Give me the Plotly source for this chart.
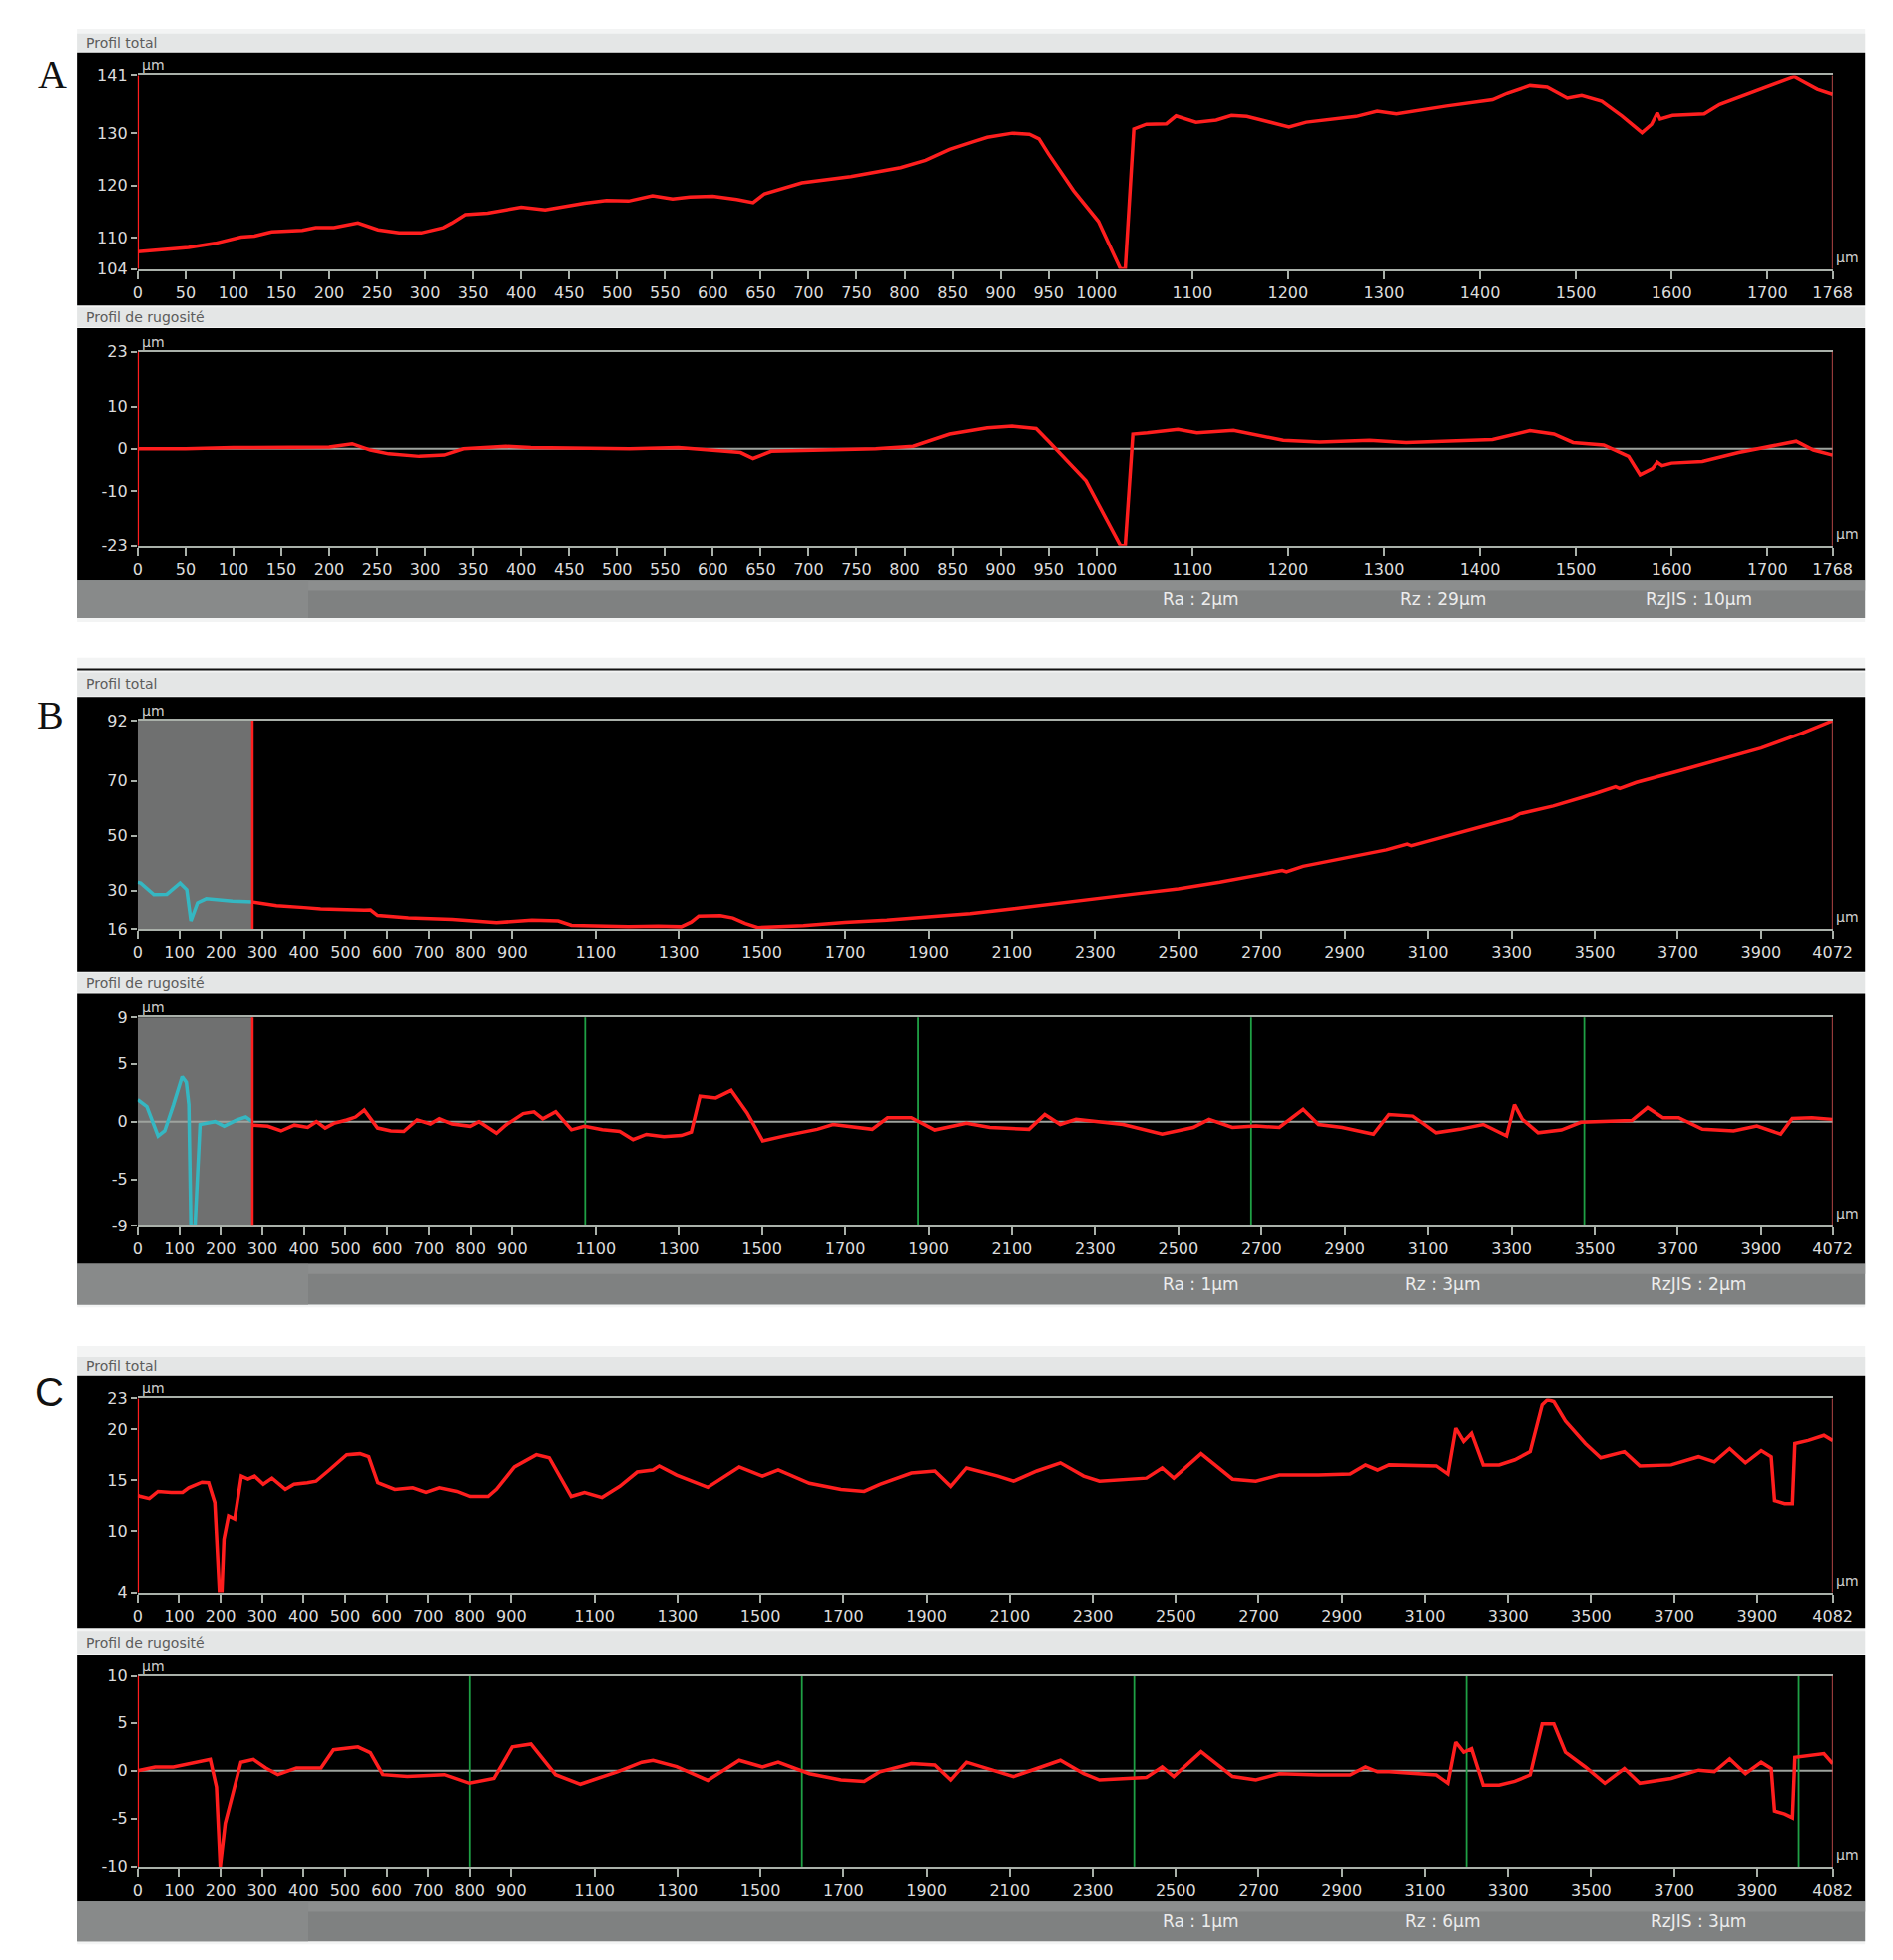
import plotly.graph_objects as go
from plotly.subplots import make_subplots

W, H = 1897, 1964

# ---------------- A ----------------
a_total_x = [0, 25, 53, 81, 108, 122, 140, 172, 186, 205, 230, 251, 273, 296, 319, 328, 342, 365, 383, 400,
             425, 448, 466, 489, 512, 537, 558, 576, 600, 625, 642, 654, 693, 744, 796, 822, 847, 870, 886, 912,
             930, 940, 950, 976, 1002, 1025, 1030, 1039, 1052, 1073, 1083, 1104, 1125, 1141, 1157, 1201, 1219,
             1271, 1293, 1313, 1365, 1413, 1428, 1452, 1470, 1491, 1506, 1527, 1548, 1569, 1579, 1585, 1588,
             1601, 1634, 1650, 1694, 1728, 1736, 1752, 1768]
a_total_y = [107.3, 107.6, 108.1, 108.9, 110.1, 110.3, 111.1, 111.4, 111.9, 111.9, 112.8, 111.5, 110.9, 110.9,
             111.9, 112.8, 114.4, 114.7, 115.3, 115.8, 115.3, 116.0, 116.6, 117.1, 117.0, 118.0, 117.4, 117.8,
             117.9, 117.3, 116.7, 118.4, 120.5, 121.7, 123.4, 124.8, 126.9, 128.3, 129.2, 130.0, 129.8, 128.9,
             126.0, 119.0, 113.1, 104.0, 104.0, 130.8, 131.7, 131.8, 133.3, 132.1, 132.5, 133.4, 133.2, 131.2,
             132.1, 133.2, 134.2, 133.7, 135.2, 136.4, 137.6, 139.1, 138.8, 136.7, 137.2, 136.1, 133.3, 130.1,
             131.7, 133.9, 132.7, 133.4, 133.7, 135.5, 138.4, 140.8, 140.0, 138.4, 137.4]
a_rough_x = [0, 50, 100, 166, 200, 224, 243, 262, 294, 320, 340, 384, 410, 513, 564, 629, 642, 661, 770, 809,
             847, 886, 912, 937, 950, 989, 1025, 1030, 1038, 1053, 1085, 1105, 1143, 1195, 1233, 1285, 1323,
             1413, 1452, 1477, 1497, 1529, 1555, 1567, 1580, 1585, 1590, 1600, 1632, 1670, 1709, 1730, 1748, 1768]
a_rough_y = [0.0, 0.0, 0.3, 0.5, 0.4, 1.2, -0.3, -1.2, -1.8, -1.5, 0.0, 0.6, 0.3, 0.0, 0.3, -0.9, -2.3, -0.6,
             0.0, 0.6, 3.5, 5.0, 5.4, 4.8, 1.8, -7.6, -23.0, -23.0, 3.5, 3.8, 4.6, 3.8, 4.4, 2.0, 1.6, 2.0, 1.5,
             2.2, 4.3, 3.5, 1.5, 0.9, -1.8, -6.2, -4.7, -3.2, -4.0, -3.4, -3.0, -0.9, 0.9, 1.8, -0.3, -1.5]
a_len = 1768
a_xticks = [0, 50, 100, 150, 200, 250, 300, 350, 400, 450, 500, 550, 600, 650, 700, 750, 800, 850, 900, 950,
            1000, 1100, 1200, 1300, 1400, 1500, 1600, 1700, 1768]
a_total_yticks = [104, 110, 120, 130, 141]
a_rough_yticks = [-23, -10, 0, 10, 23]
a_params = ["Ra : 2µm", "Rz : 29µm", "RzJIS : 10µm"]

# ---------------- B ----------------
b_cut = 276
b_total_pre_x = [0, 7, 39, 70, 102, 118, 128, 144, 165, 228, 276]
b_total_pre_y = [33.0, 32.7, 28.5, 28.6, 32.7, 30.3, 18.9, 25.5, 27.0, 26.1, 25.8]
b_total_x = [276, 334, 400, 440, 545, 560, 577, 651, 756, 862, 947, 1010, 1042, 1179, 1250, 1306, 1330, 1348,
             1400, 1430, 1460, 1490, 1600, 1700, 1800, 1900, 2000, 2100, 2200, 2300, 2400, 2500, 2600, 2700,
             2750, 2760, 2800, 2900, 3000, 3050, 3060, 3100, 3200, 3300, 3320, 3400, 3500, 3550, 3560, 3600,
             3700, 3800, 3900, 4000, 4072]
b_total_y = [25.8, 24.5, 23.8, 23.3, 22.8, 22.9, 20.9, 20.0, 19.5, 18.3, 19.2, 18.9, 17.3, 16.8, 17.0, 16.8,
             18.5, 20.7, 20.8, 20.0, 18.0, 16.5, 17.2, 18.4, 19.2, 20.3, 21.6, 23.3, 25.2, 27.2, 28.8, 30.6,
             33.0, 35.8, 37.3, 36.8, 38.8, 41.8, 44.8, 46.9, 46.3, 48.0, 52.0, 56.3, 58.0, 60.8, 65.3, 67.8,
             67.2, 69.4, 73.5, 77.8, 82.0, 87.5, 92.0]
b_rough_pre_x = [0, 22, 49, 65, 86, 107, 117, 123, 128, 138, 150, 186, 208, 239, 260, 276]
b_rough_pre_y = [1.9, 1.3, -1.25, -0.8, 1.45, 3.9, 3.4, 1.45, -9.0, -9.0, -0.25, 0.0, -0.4, 0.15, 0.4, 0.0]
b_rough_x = [276, 313, 345, 377, 409, 430, 451, 472, 503, 524, 545, 577, 609, 640, 672, 704, 725, 756, 799,
             820, 862, 884, 926, 952, 973, 1004, 1042, 1073, 1116, 1158, 1190, 1222, 1264, 1306, 1330, 1351,
             1389, 1426, 1464, 1502, 1558, 1633, 1671, 1727, 1765, 1802, 1859, 1915, 1991, 2047, 2141, 2179,
             2216, 2254, 2367, 2461, 2536, 2574, 2630, 2687, 2743, 2800, 2837, 2894, 2969, 3006, 3063, 3119,
             3176, 3232, 3288, 3307, 3326, 3364, 3420, 3467, 3533, 3589, 3627, 3664, 3702, 3759, 3834, 3890,
             3947, 3975, 4022, 4072]
b_rough_y = [-0.3, -0.4, -0.8, -0.3, -0.5, 0.0, -0.55, -0.15, 0.15, 0.4, 1.0, -0.55, -0.8, -0.85, 0.15, -0.2,
             0.25, -0.2, -0.4, 0.0, -1.0, -0.3, 0.7, 0.85, 0.25, 0.85, -0.7, -0.4, -0.7, -0.85, -1.55, -1.1,
             -1.3, -1.2, -0.9, 2.2, 2.05, 2.7, 0.77, -1.66, -1.2, -0.66, -0.24, -0.5, -0.66, 0.34, 0.34, -0.72,
             -0.14, -0.5, -0.66, 0.62, -0.24, 0.2, -0.24, -1.08, -0.5, 0.2, -0.5, -0.38, -0.5, 1.07, -0.24,
             -0.5, -1.08, 0.62, 0.48, -0.96, -0.66, -0.24, -1.24, 1.47, 0.2, -0.96, -0.72, -0.05, 0.0, 0.1,
             1.22, 0.34, 0.34, -0.66, -0.8, -0.38, -1.08, 0.28, 0.34, 0.2]
b_len = 4072
b_green = [1075, 1875, 2675, 3475]
b_xticks = [0, 100, 200, 300, 400, 500, 600, 700, 800, 900, 1100, 1300, 1500, 1700, 1900, 2100, 2300, 2500,
            2700, 2900, 3100, 3300, 3500, 3700, 3900, 4072]
b_total_yticks = [16, 30, 50, 70, 92]
b_rough_yticks = [-9, -5, 0, 5, 9]
b_params = ["Ra : 1µm", "Rz : 3µm", "RzJIS : 2µm"]

# ---------------- C ----------------
c_total_x = [0, 7, 28, 49, 81, 108, 123, 155, 171, 186, 197, 203, 208, 219, 234, 250, 266, 282, 303, 324, 356,
             377, 409, 430, 462, 504, 536, 557, 579, 620, 663, 695, 727, 769, 801, 844, 864, 907, 960, 991,
             1044, 1076, 1118, 1161, 1203, 1241, 1256, 1298, 1373, 1449, 1505, 1543, 1618, 1694, 1750, 1788,
             1864, 1920, 1958, 1996, 2071, 2109, 2165, 2222, 2278, 2316, 2429, 2467, 2495, 2561, 2637, 2693,
             2750, 2844, 2920, 2957, 2986, 3014, 3127, 3155, 3174, 3193, 3212, 3240, 3278, 3316, 3353, 3382,
             3395, 3410, 3438, 3486, 3523, 3580, 3617, 3693, 3759, 3797, 3834, 3872, 3910, 3934, 3942, 3966,
             3985, 3991, 4023, 4061, 4082]
c_total_y = [13.5, 13.4, 13.2, 13.9, 13.8, 13.8, 14.25, 14.8, 14.75, 12.8, 4.1, 4.1, 9.2, 11.5, 11.2, 15.4,
             15.1, 15.4, 14.6, 15.2, 14.1, 14.6, 14.75, 14.9, 16.0, 17.5, 17.6, 17.3, 14.75, 14.1, 14.25, 13.8,
             14.25, 13.9, 13.4, 13.4, 14.1, 16.3, 17.5, 17.2, 13.4, 13.8, 13.3, 14.4, 15.8, 16.0, 16.4, 15.5,
             14.3, 16.3, 15.4, 16.0, 14.7, 14.1, 13.9, 14.6, 15.7, 15.9, 14.4, 16.2, 15.4, 14.9, 15.9, 16.7,
             15.4, 14.9, 15.2, 16.2, 15.2, 17.6, 15.1, 14.9, 15.5, 15.5, 15.6, 16.5, 16.0, 16.5, 16.4, 15.6,
             20.1, 18.8, 19.6, 16.5, 16.5, 17.0, 17.8, 22.4, 22.9, 22.7, 20.8, 18.6, 17.2, 17.8, 16.4, 16.5,
             17.3, 16.8, 18.1, 16.7, 17.9, 17.3, 13.0, 12.7, 12.7, 18.6, 18.9, 19.4, 18.9]
c_rough_x = [0, 42, 86, 131, 175, 190, 199, 211, 229, 249, 279, 309, 338, 383, 442, 472, 531, 561, 591, 650,
             739, 799, 858, 902, 947, 1006, 1066, 1155, 1214, 1241, 1298, 1373, 1449, 1505, 1543, 1618, 1694,
             1750, 1788, 1864, 1920, 1958, 1996, 2071, 2109, 2165, 2222, 2278, 2316, 2429, 2467, 2495, 2561,
             2637, 2693, 2750, 2844, 2920, 2957, 2986, 3014, 3127, 3155, 3174, 3193, 3212, 3240, 3278, 3316,
             3353, 3382, 3410, 3438, 3486, 3533, 3580, 3617, 3693, 3759, 3797, 3834, 3872, 3910, 3934, 3942,
             3966, 3985, 3991, 4023, 4061, 4082]
c_rough_y = [0.0, 0.4, 0.4, 0.8, 1.2, -1.7, -10.0, -5.5, -2.3, 0.9, 1.2, 0.3, -0.4, 0.3, 0.3, 2.2, 2.5, 1.9,
             -0.4, -0.6, -0.4, -1.3, -0.8, 2.5, 2.8, -0.4, -1.4, -0.1, 0.9, 1.1, 0.44, -1.0, 1.1, 0.4, 0.9,
             -0.3, -0.96, -1.1, -0.1, 0.75, 0.6, -0.96, 0.9, -0.1, -0.6, 0.24, 1.1, -0.3, -0.96, -0.7, 0.4,
             -0.6, 2.0, -0.6, -0.96, -0.3, -0.44, -0.44, 0.4, -0.1, -0.1, -0.44, -1.3, 3.0, 1.95, 2.3, -1.5,
             -1.5, -1.1, -0.44, 4.9, 4.9, 1.95, 0.4, -1.3, 0.24, -1.3, -0.8, 0.07, -0.1, 1.26, -0.3, 0.9,
             0.24, -4.2, -4.5, -4.9, 1.4, 1.6, 1.8, 0.75]
c_len = 4082
c_green = [800, 1600, 2400, 3200, 4000]
c_xticks = [0, 100, 200, 300, 400, 500, 600, 700, 800, 900, 1100, 1300, 1500, 1700, 1900, 2100, 2300, 2500,
            2700, 2900, 3100, 3300, 3500, 3700, 3900, 4082]
c_total_yticks = [4, 10, 15, 20, 23]
c_rough_yticks = [-10, -5, 0, 5, 10]
c_params = ["Ra : 1µm", "Rz : 6µm", "RzJIS : 3µm"]

# ---------------- layout helpers (pixel -> paper) ----------------
def px(x):
    return x / W


def py(y):
    return 1 - y / H


PLOT_L, PLOT_R = 126.5, 1848
PANEL_L, PANEL_R = 65, 1881
RED = "#ff1e1e"
AXIS_GREY = "#a9b0a9"
TICK_FONT = dict(family="DejaVu Sans", size=16, color="#dcdcdc")

# (top, bottom) of each plotting area, and of black panel / title strip
panels = [
    dict(plot=(59, 255), black=(36, 292), strip=(17, 35), title="Profil total"),
    dict(plot=(339, 535), black=(315, 570), strip=(294, 314), title="Profil de rugosité"),
    dict(plot=(712, 923), black=(688, 966), strip=(663, 687), title="Profil total"),
    dict(plot=(1012, 1223), black=(988, 1262), strip=(967, 987), title="Profil de rugosité"),
    dict(plot=(1398, 1594), black=(1375, 1630), strip=(1356, 1374), title="Profil total"),
    dict(plot=(1678, 1872), black=(1657, 1907), strip=(1633, 1656), title="Profil de rugosité"),
]

fig = make_subplots(rows=6, cols=1)

shapes = []
annotations = []


def rect(x0, y0, x1, y1, color):
    shapes.append(dict(type="rect", xref="paper", yref="paper", x0=px(x0), x1=px(x1), y0=py(y1), y1=py(y0),
                       fillcolor=color, line_width=0, layer="below"))


# window backgrounds
rect(PANEL_L, 12, PANEL_R, 612, "#f3f4f4")
rect(PANEL_L, 648, PANEL_R, 1306, "#f3f4f4")
rect(PANEL_L, 1345, PANEL_R, 1950, "#f3f4f4")
shapes.append(dict(type="line", xref="paper", yref="paper", x0=px(PANEL_L), x1=px(PANEL_R), y0=py(660),
                   y1=py(660), line=dict(color="#111111", width=2), layer="below"))

for p in panels:
    rect(PANEL_L, p["strip"][0], PANEL_R, p["strip"][1], "#e4e6e6")
    rect(PANEL_L, p["black"][0], PANEL_R, p["black"][1], "#000000")
    annotations.append(dict(x=px(72), y=py((p["strip"][0] + p["strip"][1]) / 2), xref="paper", yref="paper",
                            text=p["title"], showarrow=False, xanchor="left", yanchor="middle",
                            font=dict(family="DejaVu Sans", size=14, color="#5c5c5c")))

# status bars
for top, bot, params in [(570, 608, a_params), (1262, 1303, b_params), (1907, 1947, c_params)]:
    rect(PANEL_L, top, PANEL_R, bot, "#7f8181")
    rect(PANEL_L, top, PANEL_R, top + 10, "#8c8e8e")
    rect(PANEL_L, top, 300, bot, "#888a8a")
    for cx, t in zip([1206, 1452, 1712], params):
        annotations.append(dict(x=px(cx), y=py((top + bot) / 2), xref="paper", yref="paper", text=t,
                                showarrow=False, xanchor="center", yanchor="middle",
                                font=dict(family="DejaVu Sans", size=17, color="#ececec")))

# panel letters
for letter, x, y, fam in [("A", 40, 58, "Liberation Serif"), ("B", 38, 706, "Liberation Serif"),
                          ("C", 37, 1391, "Liberation Sans")]:
    annotations.append(dict(x=px(x), y=py(y), xref="paper", yref="paper", text=letter, showarrow=False,
                            xanchor="center", yanchor="middle",
                            font=dict(family=fam, size=40, color="#111111")))

# B grey pre-travel band (drawn before lines so the curve sits on top)
for row in (3, 4):
    shapes.append(dict(type="rect", xref=f"x{row}", yref=f"y{row} domain", x0=0, x1=b_cut, y0=0, y1=1,
                       fillcolor="#6f7070", line_width=0, layer="below"))

# zero lines for roughness profiles
for row in (2, 4, 6):
    shapes.append(dict(type="line", xref=f"x{row} domain", yref=f"y{row}", x0=0, x1=1, y0=0, y1=0,
                       line=dict(color="#9ea39e", width=2), layer="below"))

# cut-off markers
for row, xs in [(4, b_green), (6, c_green)]:
    for gx in xs:
        shapes.append(dict(type="line", xref=f"x{row}", yref=f"y{row} domain", x0=gx, x1=gx, y0=0, y1=1,
                           line=dict(color="#1fa045", width=1.8), layer="below"))

# red evaluation limits
for row, x0, x1 in [(1, 0, a_len), (2, 0, a_len), (3, b_cut, b_len), (4, b_cut, b_len),
                    (5, 0, c_len), (6, 0, c_len)]:
    xr = "x" if row == 1 else f"x{row}"
    yr = "y domain" if row == 1 else f"y{row} domain"
    for gx, w, c in [(x0, 2.5, RED), (x1, 1.5, "#e85a5a")]:
        shapes.append(dict(type="line", xref=xr, yref=yr, x0=gx, x1=gx, y0=0, y1=1,
                           line=dict(color=c, width=w), layer="above"))

# traces
series = [
    (1, a_total_x, a_total_y, RED), (2, a_rough_x, a_rough_y, RED),
    (3, b_total_pre_x, b_total_pre_y, "#35b7c2"), (3, b_total_x, b_total_y, RED),
    (4, b_rough_pre_x, b_rough_pre_y, "#35b7c2"), (4, b_rough_x, b_rough_y, RED),
    (5, c_total_x, c_total_y, RED), (6, c_rough_x, c_rough_y, RED),
]
for row, xs, ys, col in series:
    fig.add_trace(go.Scatter(x=xs, y=ys, mode="lines", line=dict(color=col, width=3.5),
                             hoverinfo="skip", showlegend=False), row=row, col=1)

axes_cfg = [
    (a_len, a_xticks, (104, 141), a_total_yticks),
    (a_len, a_xticks, (-23, 23), a_rough_yticks),
    (b_len, b_xticks, (16, 92), b_total_yticks),
    (b_len, b_xticks, (-9, 9), b_rough_yticks),
    (c_len, c_xticks, (4, 23), c_total_yticks),
    (c_len, c_xticks, (-10, 10), c_rough_yticks),
]
for i, (p, (xlen, xt, yr, yt)) in enumerate(zip(panels, axes_cfg), start=1):
    top, bot = p["plot"]
    fig.update_xaxes(domain=[px(PLOT_L), px(PLOT_R)], range=[0, xlen], tickvals=xt,
                     ticktext=[str(v) for v in xt], ticks="outside", ticklen=8, tickwidth=1.5,
                     tickcolor=AXIS_GREY, showline=True, mirror=True, linecolor=AXIS_GREY, linewidth=2,
                     showgrid=False, zeroline=False, tickfont=TICK_FONT, fixedrange=True, row=i, col=1)
    fig.update_yaxes(domain=[py(bot), py(top)], range=list(yr), tickvals=yt,
                     ticktext=[str(v) for v in yt], ticks="outside", ticklen=6, tickwidth=1.5,
                     tickcolor=AXIS_GREY, showline=False, showgrid=False, zeroline=False,
                     tickfont=TICK_FONT, fixedrange=True, row=i, col=1)
    xd = "x domain" if i == 1 else f"x{i} domain"
    yd = "y domain" if i == 1 else f"y{i} domain"
    annotations.append(dict(x=0, y=1, xref=xd, yref=yd, text="µm", showarrow=False, xanchor="left",
                            yanchor="bottom", xshift=2, yshift=0,
                            font=dict(family="DejaVu Sans", size=14, color="#cfcfcf")))
    annotations.append(dict(x=1, y=0, xref=xd, yref=yd, text="µm", showarrow=False, xanchor="left",
                            yanchor="bottom", xshift=1, yshift=2,
                            font=dict(family="DejaVu Sans", size=14, color="#cfcfcf")))

fig.update_layout(
    width=W,
    height=H,
    autosize=False,
    margin=dict(l=0, r=0, t=0, b=0),
    paper_bgcolor="white",
    plot_bgcolor="rgba(0,0,0,0)",
    shapes=shapes,
    annotations=annotations,
    showlegend=False,
)

fig.write_html("out.html")
